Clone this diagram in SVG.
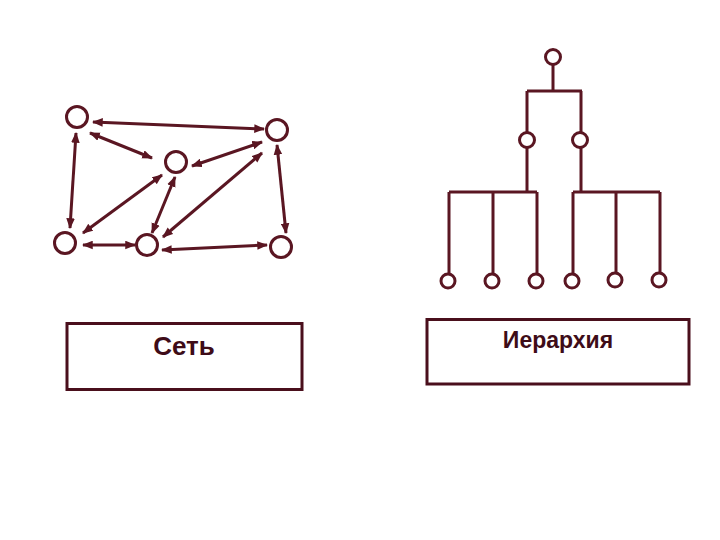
<svg xmlns="http://www.w3.org/2000/svg" width="720" height="540" viewBox="0 0 720 540">
<style>
.n{fill:#fff;stroke:#5a1622;stroke-width:3}
.e{stroke:#5a1622;stroke-width:3;fill:none;marker-start:url(#ah);marker-end:url(#ah)}
.t{stroke:#5a1622;stroke-width:3;fill:none}
.box{fill:#fff;stroke:#4a0f1c;stroke-width:3}
.lbl{font-family:"Liberation Sans",Arial,sans-serif;font-weight:bold;fill:#3e0c18;text-anchor:middle}
</style>
<defs>
<marker id="ah" viewBox="0 0 10 8" refX="9" refY="4" markerWidth="3.6" markerHeight="3" orient="auto-start-reverse" markerUnits="strokeWidth">
<path d="M0,0 L10,4 L0,8 z" fill="#5a1622"/>
</marker>
</defs>
<rect width="720" height="540" fill="#fff"/>
<g id="connectors">
<line class="e" x1="93" y1="122" x2="264" y2="129"/>
<line class="e" x1="90" y1="133" x2="152" y2="158"/>
<line class="e" x1="192" y1="166" x2="262" y2="142"/>
<line class="e" x1="76" y1="133" x2="70" y2="228"/>
<line class="e" x1="277" y1="145" x2="286" y2="233"/>
<line class="e" x1="83" y1="233" x2="162" y2="175"/>
<line class="e" x1="152" y1="233" x2="175" y2="177"/>
<line class="e" x1="163" y1="237" x2="262" y2="153"/>
<line class="e" x1="83" y1="245" x2="135" y2="245"/>
<line class="e" x1="162" y1="250" x2="267" y2="245"/>
<path class="t" d="M553,65 V91 M527,91 H582 M527,91 V132 M581,91 V132 M527,147 V192 M581,147 V192 M449,192 H537 M573,192 H660 M449,192 V273 M493,192 V273 M537,192 V273 M573,192 V273 M616,192 V273 M660,192 V273"/>
</g>
<g id="net-a"><circle class="n" cx="77" cy="117" r="10.5"/></g>
<g id="net-b"><circle class="n" cx="277" cy="130" r="10.5"/></g>
<g id="net-c"><circle class="n" cx="176" cy="162" r="10.5"/></g>
<g id="net-d"><circle class="n" cx="65" cy="243" r="10.5"/></g>
<g id="net-e"><circle class="n" cx="147" cy="245" r="10.5"/></g>
<g id="net-f"><circle class="n" cx="281" cy="247" r="10.5"/></g>
<g id="h-root"><circle class="n" cx="553" cy="57" r="7.5"/></g>
<g id="h-m1"><circle class="n" cx="527" cy="140" r="7.5"/></g>
<g id="h-m2"><circle class="n" cx="580" cy="140" r="7.5"/></g>
<g id="h-l1"><circle class="n" cx="448" cy="281" r="7"/></g>
<g id="h-l2"><circle class="n" cx="492" cy="281" r="7"/></g>
<g id="h-l3"><circle class="n" cx="536" cy="281" r="7"/></g>
<g id="h-l4"><circle class="n" cx="572" cy="281" r="7"/></g>
<g id="h-l5"><circle class="n" cx="615" cy="280" r="7"/></g>
<g id="h-l6"><circle class="n" cx="659" cy="280" r="7"/></g>
<g id="box-net"><rect class="box" x="67" y="323.5" width="235" height="66"/><text class="lbl" x="184" y="354.5" font-size="26">Сеть</text></g>
<g id="box-hier"><rect class="box" x="427" y="319.5" width="262" height="64.5"/><text class="lbl" x="558" y="347.5" font-size="23">Иерархия</text></g>
</svg>
